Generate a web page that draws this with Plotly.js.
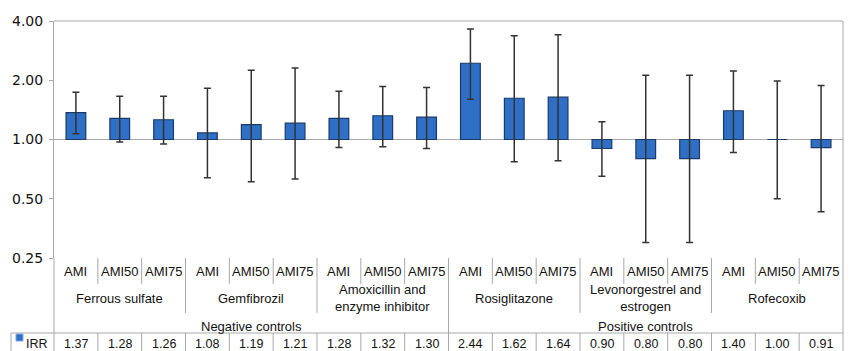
<!DOCTYPE html>
<html>
<head>
<meta charset="utf-8">
<script src="https://cdn.plot.ly/plotly-3.0.1.min.js"></script>
<style>
  html, body { margin: 0; padding: 0; background: #fff; }
  #chart { width: 856px; height: 351px; }
</style>
</head>
<body>
<div id="chart"></div>
<script>
// ---- data ----
const methods = ['AMI', 'AMI50', 'AMI75'];
const drugs = ['Ferrous sulfate', 'Gemfibrozil', 'Amoxicillin and<br>enzyme inhibitor',
               'Rosiglitazone', 'Levonorgestrel and<br>estrogen', 'Rofecoxib'];
const groups = ['Negative controls', 'Positive controls'];
const irr    = [1.37, 1.28, 1.26, 1.08, 1.19, 1.21, 1.28, 1.32, 1.30, 2.44, 1.62, 1.64, 0.90, 0.80, 0.80, 1.40, 1.00, 0.91];
const ciLow  = [1.07, 0.97, 0.95, 0.64, 0.61, 0.63, 0.91, 0.92, 0.90, 1.60, 0.77, 0.78, 0.65, 0.30, 0.30, 0.86, 0.50, 0.43];
const ciHigh = [1.74, 1.66, 1.66, 1.82, 2.25, 2.31, 1.76, 1.86, 1.84, 3.64, 3.37, 3.41, 1.23, 2.12, 2.12, 2.23, 1.98, 1.88];
const yTicks = [0.25, 0.5, 1, 2, 4];
const seriesName = 'IRR';

// ---- derived ----
const nCat = irr.length;
const perDrug = methods.length;
const perGroup = nCat / groups.length;
const xs = irr.map((_, i) => i);

const W = 856, H = 351;
const M = { l: 54, r: 13, t: 21, b: 93 };
const plotW = W - M.l - M.r, plotH = H - M.t - M.b;
const px2x = p => (p - M.l) / plotW;           // pixel -> paper x
const px2y = p => (H - M.b - p) / plotH;       // pixel -> paper y

const lineCol = '#a9a9a9';
const txtCol = '#111';
const tableFont = 'Liberation Sans, Arial, sans-serif';

const bars = {
  type: 'bar', x: xs, y: irr.map(v => v - 1), base: 1,
  width: 0.45,
  marker: { color: '#2f70c6', line: { color: '#1a3a69', width: 1.2 } },
  hoverinfo: 'skip', showlegend: false
};
const errs = {
  type: 'scatter', mode: 'markers', x: xs, y: irr,
  marker: { size: 1, color: 'rgba(0,0,0,0)' },
  error_y: {
    type: 'data', symmetric: false,
    array: ciHigh.map((v, i) => v - irr[i]),
    arrayminus: ciLow.map((v, i) => irr[i] - v),
    color: '#333', thickness: 1.5, width: 3.5
  },
  hoverinfo: 'skip', showlegend: false
};

const shapes = [];
const ann = [];
const vline = (x, y0, y1) => shapes.push({ type: 'line', xref: 'paper', yref: 'paper', x0: x, x1: x, y0: y0, y1: y1, line: { color: lineCol, width: 1 } });
const hline = (y, x0, x1) => shapes.push({ type: 'line', xref: 'paper', yref: 'paper', x0: x0, x1: x1, y0: y, y1: y, line: { color: lineCol, width: 1 } });

const yRow1 = px2y(284), yRow2 = px2y(313), yRow3 = px2y(333), yBot = px2y(351);
const xLeg = px2x(11);

// baseline at 1.00
shapes.push({ type: 'line', xref: 'paper', yref: 'y', x0: 0, x1: 1, y0: 1, y1: 1, layer: 'below', line: { color: lineCol, width: 1 } });
// top & right borders, left line
hline(1, 0, 1);
vline(1, yBot, 1);
vline(0, yBot, 0);
// row above IRR values
hline(yRow3, xLeg, 1);
vline(xLeg, yBot, yRow3);
// category boundaries
for (let k = 1; k < nCat; k++) {
  const x = k / nCat;
  if (k % perGroup === 0) { vline(x, yBot, 0); }
  else if (k % perDrug === 0) { vline(x, yRow2, 0); vline(x, yBot, yRow3); }
  else { vline(x, yRow1, 0); vline(x, yBot, yRow3); }
}

// method labels & IRR values
xs.forEach(i => {
  ann.push({ xref: 'x', yref: 'paper', x: i, y: px2y(271), text: methods[i % perDrug], showarrow: false, yanchor: 'middle', font: { family: tableFont, size: 13, color: txtCol } });
  ann.push({ xref: 'x', yref: 'paper', x: i, y: px2y(344), text: irr[i].toFixed(2), showarrow: false, yanchor: 'middle', font: { family: tableFont, size: 12.5, color: txtCol } });
});
drugs.forEach((d, j) => {
  ann.push({ xref: 'x', yref: 'paper', x: j * perDrug + (perDrug - 1) / 2, y: px2y(298), text: d, showarrow: false, yanchor: 'middle', font: { family: tableFont, size: 13, color: txtCol } });
});
groups.forEach((g, j) => {
  ann.push({ xref: 'x', yref: 'paper', x: j * perGroup + (perGroup - 1) / 2, y: px2y(326), text: g, showarrow: false, yanchor: 'middle', font: { family: tableFont, size: 13, color: txtCol } });
});
// legend key
shapes.push({ type: 'rect', xref: 'paper', yref: 'paper', x0: px2x(16), x1: px2x(23), y0: px2y(341), y1: px2y(334), fillcolor: '#2f70c6', line: { color: '#7fa9e0', width: 1 } });
ann.push({ xref: 'paper', yref: 'paper', x: px2x(24), y: px2y(344), xanchor: 'left', yanchor: 'middle', text: seriesName, showarrow: false, font: { family: tableFont, size: 12.5, color: txtCol } });

const layout = {
  width: W, height: H,
  margin: M,
  paper_bgcolor: '#fff', plot_bgcolor: '#fff',
  barmode: 'overlay',
  xaxis: { range: [-0.5, nCat - 0.5], showticklabels: false, ticks: '', showgrid: false, zeroline: false, showline: false, fixedrange: true },
  yaxis: {
    type: 'log', range: [Math.log10(yTicks[0]), Math.log10(yTicks[yTicks.length - 1])],
    tickmode: 'array', tickvals: yTicks, ticktext: yTicks.map(v => v.toFixed(2)),
    ticks: 'outside', ticklen: 4, tickcolor: lineCol, ticklabelstandoff: 3,
    showline: true, linecolor: lineCol, linewidth: 1,
    showgrid: false, zeroline: false,
    tickfont: { family: 'DejaVu Sans, sans-serif', size: 14, color: txtCol }
  },
  shapes: shapes,
  annotations: ann,
  showlegend: false
};

Plotly.newPlot('chart', [bars, errs], layout, { staticPlot: true, displayModeBar: false });
</script>
</body>
</html>
